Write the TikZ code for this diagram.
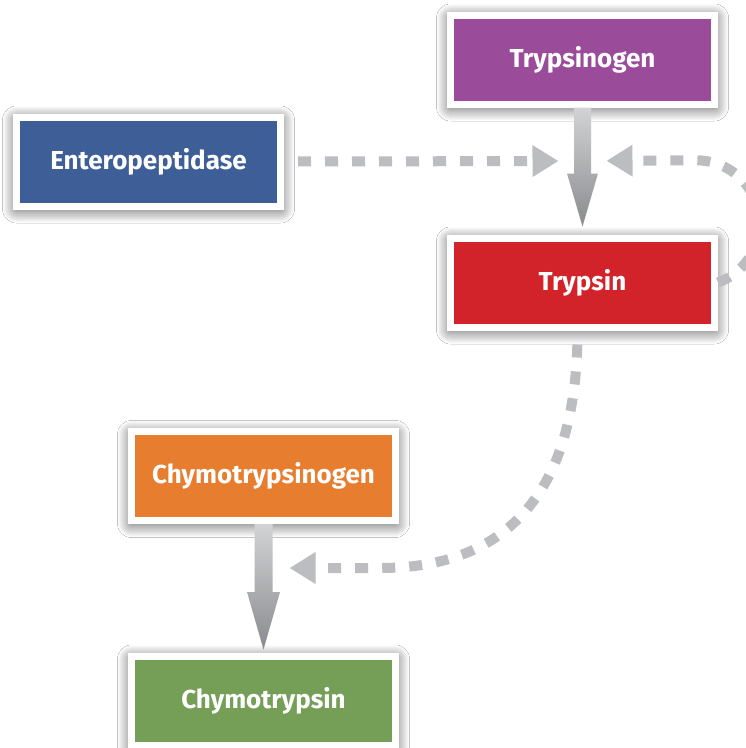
\documentclass[tikz,border=0pt]{standalone}
\usepackage{fontspec}
\setmainfont{Fira Sans}
\usetikzlibrary{arrows.meta,calc,shadows.blur}
\definecolor{cpurple}{HTML}{9A4C9B}
\definecolor{cred}{HTML}{D2232A}
\definecolor{cblue}{HTML}{3D5E96}
\definecolor{corange}{HTML}{E77D2E}
\definecolor{cgreen}{HTML}{759E57}
\definecolor{dgray}{HTML}{BCBDC0}
\definecolor{sgl}{HTML}{D2D3D5}
\definecolor{sgd}{HTML}{8A8B8E}
\begin{document}
\begin{tikzpicture}[x=1pt,y=1pt,
  box/.style={draw=white, line width=7pt, minimum width=264pt, minimum height=89pt,
    inner sep=0pt, text=white, font=\fontsize{26}{30}\selectfont\bfseries,
    blur shadow={shadow xshift=0pt, shadow yshift=-3pt, shadow blur radius=14pt,
      shadow blur steps=14, shadow opacity=75}},
  dashline/.style={draw=dgray, line width=10pt, dash pattern=on 13pt off 14pt,
    -{Triangle[length=26pt,width=30pt]}},
  solidarrow/.style={top color=sgl, bottom color=sgd, draw=none}
]
\useasboundingbox (0,0) rectangle (746,-748);
\fill[white] (0,0) rectangle (746,-748);

\node[box, fill=cpurple] (tg) at (582.5,-59.5) {Trypsinogen};
\node[box, fill=cred] (tr) at (582.5,-282.5) {Trypsin};
\node[box, fill=cblue] (ep) at (148.5,-161.5) {Enteropeptidase};
\node[box, fill=corange] (cg) at (263.5,-476) {Chymotrypsinogen};
\node[box, fill=cgreen] (ct) at (263.5,-700.5) {Chymotrypsin};

\coordinate (j1) at (582.5,-161);
\coordinate (j2) at (263.5,-568);

% solid activation arrows
\shade[solidarrow] ($(tg.south)+(-8.5,0)$) -- ($(tg.south)+(8.5,0)$)
  -- ($(tg.south)+(8.5,-66)$) -- ($(tg.south)+(15.5,-66)$)
  -- ($(tr.north)+(0,8)$)
  -- ($(tg.south)+(-15.5,-66)$) -- ($(tg.south)+(-8.5,-66)$) -- cycle;
\shade[solidarrow] ($(cg.south)+(-9,0)$) -- ($(cg.south)+(9,0)$)
  -- ($(cg.south)+(9,-68)$) -- ($(cg.south)+(16.5,-68)$)
  -- ($(ct.north)+(0,3)$)
  -- ($(cg.south)+(-16.5,-68)$) -- ($(cg.south)+(-9,-68)$) -- cycle;

% dashed catalytic arrows
\draw[dashline, dash phase=13pt, shorten >=24pt] (ep.east) -- (j1);
\draw[dashline, shorten >=24pt] (tr.east) arc[start angle=-70, end angle=90, radius=63] -- (j1);
\draw[dashline, dash phase=13pt, shorten >=26pt] ($(tr.south)+(-5,0)$)
  .. controls +(0,-190) and +(100,0) .. ($(j2)+(117,0)$) -- (j2);
\end{tikzpicture}
\end{document}
